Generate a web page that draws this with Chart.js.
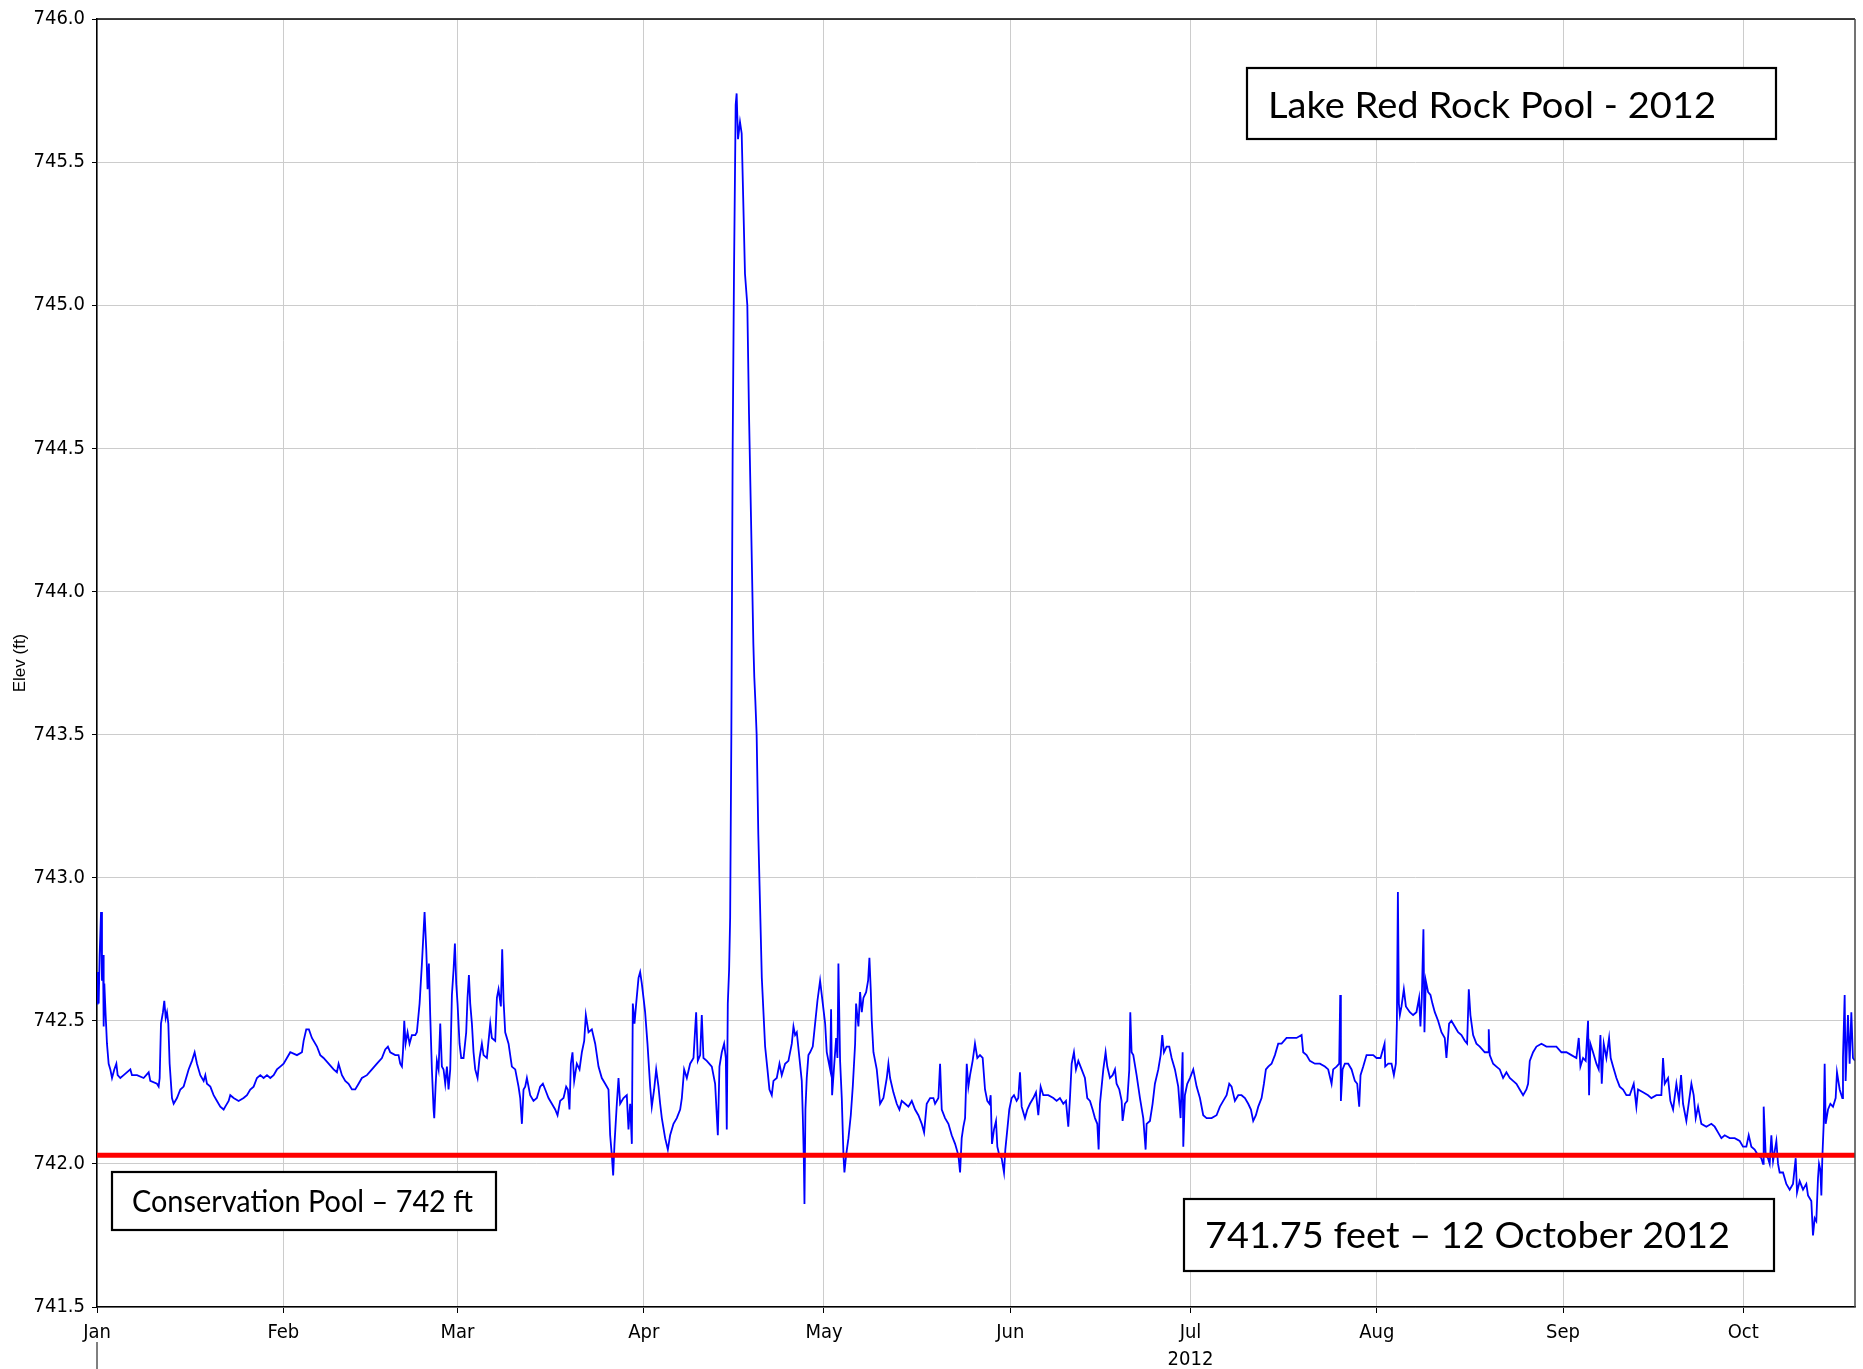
<!DOCTYPE html>
<html>
<head>
<meta charset="utf-8">
<title>Lake Red Rock Pool - 2012</title>
<script src="https://cdn.jsdelivr.net/npm/chart.js@4.4.1/dist/chart.umd.min.js"></script>
<style>
    html, body { margin: 0; padding: 0; background: #fff; }
</style>
</head>
<body>
<canvas id="lineCota" width="1863" height="1369"></canvas>
<script>
// eixo x em dias desde 1 de janeiro de 2012 (ano bissexto)
const inicioMes = [0, 31, 60, 91, 121, 152, 182, 213, 244, 274];
const nomesMes = ['Jan', 'Feb', 'Mar', 'Apr', 'May', 'Jun', 'Jul', 'Aug', 'Sep', 'Oct'];
const fimSerie = 292.6;
const ticksCota = [741.5, 742.0, 742.5, 743.0, 743.5, 744.0, 744.5, 745.0, 745.5, 746.0];
const nivelConservacao = 742.03;

// cota do lago (ft) - janeiro a março
const diasJanMar = [0, 0.11, 0.28, 0.44, 0.67, 0.83, 1.0, 1.11, 1.22, 1.44, 1.66, 1.94, 2.22, 2.5, 2.88, 3.22, 3.44, 3.88, 4.44, 5.55,
    5.82, 6.66, 7.76, 8.6, 8.87, 9.98, 10.26, 10.43, 10.65, 10.98, 11.2, 11.43, 11.65, 11.87, 12.09, 12.48, 12.76, 13.31, 13.87, 14.42,
    15.25, 15.81, 16.25, 16.64, 17.19, 17.75, 18.03, 18.3, 18.86, 19.41, 19.97, 20.52, 21.08, 21.35, 21.91, 22.18, 22.74, 23.57, 24.4, 24.96,
    25.51, 26.07, 26.62, 27.18, 27.73, 28.29, 28.84, 29.4, 29.95, 30.5, 31.06, 31.61, 32.17, 33.28, 34.11, 34.39, 34.83, 35.27, 35.77, 36.61,
    37.16, 37.71, 38.55, 39.38, 39.93, 40.21, 40.77, 41.32, 41.87, 42.43, 42.98, 43.54, 44.09, 44.93, 45.76, 46.59, 47.42, 47.98, 48.42, 48.81,
    49.64, 50.19, 50.47, 50.75, 50.92, 51.14, 51.36, 51.69, 52.02, 52.41, 52.97, 53.24, 53.69, 54.08, 54.35, 54.52, 54.8, 55.02, 55.24, 55.46,
    55.74, 56.02, 56.13, 56.35, 56.57, 56.85, 57.13, 57.4, 57.68, 57.96, 58.24, 58.51, 58.79, 59.07, 59.35, 59.57, 59.79, 60.01, 60.34, 60.62,
    61.01, 61.45, 61.67, 61.9, 62.12, 62.4, 62.67, 62.95, 63.34, 63.67, 64.06, 64.34, 64.89, 65.45, 65.72, 66.28, 66.56, 66.83, 67.22, 67.44,
    67.67, 67.94, 68.5, 69.05, 69.61, 70.16, 70.44, 70.72, 70.99, 71.27, 71.55, 72.1];
const cotaJanMar = [742.56, 742.67, 742.56, 742.73, 742.88, 742.64, 742.73, 742.48, 742.63, 742.52, 742.42, 742.35, 742.33, 742.30, 742.33, 742.35, 742.31, 742.30, 742.31, 742.33,
    742.31, 742.31, 742.30, 742.32, 742.29, 742.28, 742.27, 742.30, 742.49, 742.53, 742.57, 742.51, 742.53, 742.49, 742.35, 742.23, 742.21, 742.23, 742.26, 742.27,
    742.33, 742.36, 742.39, 742.35, 742.31, 742.29, 742.31, 742.28, 742.27, 742.24, 742.22, 742.20, 742.19, 742.20, 742.22, 742.24, 742.23, 742.22, 742.23, 742.24,
    742.26, 742.27, 742.30, 742.31, 742.30, 742.31, 742.30, 742.31, 742.33, 742.34, 742.35, 742.37, 742.39, 742.38, 742.39, 742.43, 742.47, 742.47, 742.44, 742.41,
    742.38, 742.37, 742.35, 742.33, 742.32, 742.35, 742.31, 742.29, 742.28, 742.26, 742.26, 742.28, 742.30, 742.31, 742.33, 742.35, 742.37, 742.40, 742.41, 742.39,
    742.38, 742.38, 742.35, 742.34, 742.39, 742.50, 742.42, 742.46, 742.42, 742.45, 742.45, 742.46, 742.56, 742.70, 742.81, 742.88, 742.75, 742.61, 742.70, 742.52,
    742.33, 742.19, 742.16, 742.27, 742.36, 742.33, 742.49, 742.34, 742.33, 742.28, 742.34, 742.26, 742.33, 742.59, 742.68, 742.77, 742.63, 742.56, 742.42, 742.37,
    742.37, 742.46, 742.58, 742.66, 742.56, 742.49, 742.39, 742.33, 742.30, 742.37, 742.42, 742.38, 742.37, 742.49, 742.44, 742.43, 742.58, 742.61, 742.55, 742.75,
    742.57, 742.46, 742.42, 742.34, 742.33, 742.27, 742.23, 742.14, 742.26, 742.27, 742.30, 742.24];

// março a maio (inclui a cheia de abril)
const diasMarMai = [72.65, 73.21, 73.76, 74.21, 74.6, 75.15, 75.71, 76.26, 76.65, 77.09, 77.65, 78.09, 78.37, 78.64, 78.87, 79.14, 79.42, 79.86, 80.31, 80.7,
    81.09, 81.36, 81.81, 82.36, 82.92, 83.47, 84.02, 84.58, 85.13, 85.41, 85.69, 85.91, 86.13, 86.52, 86.8, 87.07, 87.63, 88.18, 88.46, 88.74,
    89.02, 89.18, 89.46, 89.74, 90.13, 90.4, 90.68, 90.96, 91.23, 91.62, 92.07, 92.34, 92.73, 93.07, 93.45, 93.73, 94.01, 94.56, 95.01, 95.39,
    95.95, 96.5, 97.06, 97.34, 97.72, 98.17, 98.72, 99.28, 99.72, 100.0, 100.39, 100.66, 100.94, 101.5, 102.33, 102.88, 103.33, 103.6, 103.99, 104.38,
    104.66, 104.82, 104.99, 105.21, 105.38, 105.58, 105.8, 106.02, 106.3, 106.46, 106.69, 107.02, 107.3, 107.85, 108.24, 108.52, 108.85, 109.24, 109.4, 109.57,
    109.79, 110.07, 110.35, 110.65, 111.2, 111.59, 111.92, 112.31, 112.59, 113.14, 113.59, 113.97, 114.53, 115.08, 115.64, 115.92, 116.19, 116.47, 116.91, 117.3,
    117.47, 117.64, 117.75, 117.91, 118.13, 118.41, 118.69, 119.13, 119.52, 119.91, 120.35, 120.8, 121.19, 121.46, 121.74, 122.02, 122.18, 122.35, 122.68, 123.02,
    123.24, 123.4, 123.68, 123.96, 124.24, 124.4, 124.68, 125.07, 125.46, 125.79, 126.18, 126.34, 126.73, 127.01, 127.29, 127.56, 128.01, 128.34, 128.56, 128.78,
    128.95, 129.23, 129.78, 130.34, 130.89, 131.45, 131.72, 132.0, 132.55, 133.11, 133.55, 133.94, 134.5, 135.05, 135.61, 136.16, 136.71, 137.27, 137.66, 138.1,
    138.66, 139.21, 139.49, 140.04, 140.32, 140.6, 141.15, 141.71, 142.26, 142.82, 143.37, 143.65, 143.92, 144.2, 144.48, 144.76, 145.03, 145.31];
const cotaMarMai = [742.22, 742.23, 742.27, 742.28, 742.26, 742.23, 742.21, 742.19, 742.17, 742.22, 742.23, 742.27, 742.26, 742.19, 742.35, 742.39, 742.29, 742.35, 742.33, 742.39,
    742.43, 742.52, 742.46, 742.47, 742.42, 742.34, 742.30, 742.28, 742.26, 742.10, 742.03, 741.96, 742.07, 742.21, 742.30, 742.21, 742.23, 742.24, 742.12, 742.21,
    742.07, 742.56, 742.49, 742.56, 742.65, 742.67, 742.63, 742.58, 742.53, 742.42, 742.27, 742.20, 742.26, 742.33, 742.27, 742.21, 742.16, 742.09, 742.05, 742.10,
    742.14, 742.16, 742.19, 742.23, 742.33, 742.30, 742.35, 742.37, 742.53, 742.36, 742.38, 742.52, 742.37, 742.36, 742.34, 742.28, 742.10, 742.34, 742.39, 742.42,
    742.37, 742.12, 742.56, 742.68, 742.86, 743.50, 744.50, 745.11, 745.70, 745.74, 745.58, 745.64, 745.60, 745.11, 745.00, 744.62, 744.26, 743.82, 743.70, 743.62,
    743.50, 743.15, 742.91, 742.65, 742.41, 742.33, 742.26, 742.24, 742.29, 742.30, 742.35, 742.31, 742.35, 742.36, 742.42, 742.48, 742.45, 742.46, 742.37, 742.29,
    742.17, 742.02, 741.86, 742.19, 742.30, 742.38, 742.39, 742.41, 742.49, 742.57, 742.64, 742.56, 742.49, 742.39, 742.36, 742.33, 742.54, 742.24, 742.34, 742.44,
    742.37, 742.70, 742.36, 742.23, 742.03, 741.97, 742.03, 742.09, 742.17, 742.27, 742.42, 742.56, 742.48, 742.60, 742.53, 742.58, 742.60, 742.64, 742.72, 742.61,
    742.50, 742.39, 742.33, 742.21, 742.23, 742.30, 742.35, 742.30, 742.25, 742.21, 742.19, 742.22, 742.21, 742.20, 742.22, 742.19, 742.17, 742.14, 742.11, 742.21,
    742.23, 742.23, 742.21, 742.23, 742.35, 742.19, 742.16, 742.14, 742.10, 742.07, 742.03, 741.97, 742.09, 742.13, 742.16, 742.35, 742.27, 742.31];

// maio a agosto
const diasMaiAgo = [145.74, 146.13, 146.52, 146.96, 147.41, 147.8, 148.18, 148.52, 148.74, 148.96, 149.29, 149.63, 149.85, 150.18, 150.57, 150.96, 151.18, 151.51, 151.84, 152.23,
    152.62, 153.06, 153.34, 153.62, 153.9, 154.45, 154.84, 155.28, 155.84, 156.28, 156.67, 157.06, 157.5, 158.33, 159.17, 159.72, 160.27, 160.83, 161.27, 161.66,
    161.94, 162.22, 162.6, 162.94, 163.33, 163.88, 164.43, 164.82, 165.27, 165.71, 166.1, 166.49, 166.71, 166.93, 167.21, 167.49, 167.87, 168.15, 168.59, 169.04,
    169.43, 169.7, 170.15, 170.54, 170.7, 171.09, 171.48, 171.81, 171.98, 172.2, 172.48, 173.03, 173.59, 174.14, 174.53, 174.7, 175.25, 175.69, 176.08, 176.64,
    177.03, 177.3, 177.58, 178.02, 178.47, 178.86, 179.41, 179.96, 180.35, 180.69, 180.8, 181.07, 181.46, 181.91, 182.46, 183.02, 183.57, 184.12, 184.68, 185.51,
    186.34, 186.9, 187.45, 188.01, 188.45, 188.84, 189.39, 189.95, 190.5, 191.06, 191.61, 192.06, 192.44, 192.89, 193.28, 193.83, 194.22, 194.55, 194.94, 195.49,
    196.05, 196.6, 197.16, 197.99, 198.82, 199.65, 200.49, 200.76, 201.32, 201.87, 202.7, 203.54, 204.37, 204.92, 205.48, 205.75, 206.31, 206.75, 206.92, 207.03,
    207.31, 207.7, 208.25, 208.81, 209.36, 209.75, 210.08, 210.3, 210.75, 211.3, 211.86, 212.41, 212.97, 213.63, 214.3, 214.41, 214.91, 215.46, 215.85, 216.18,
    216.35, 216.52, 216.68, 216.85, 217.12, 217.51, 217.85, 218.51];
const cotaMaiAgo = [742.36, 742.42, 742.37, 742.38, 742.37, 742.26, 742.22, 742.21, 742.24, 742.07, 742.12, 742.15, 742.06, 742.03, 742.02, 741.97, 742.05, 742.12, 742.19, 742.23,
    742.24, 742.22, 742.23, 742.32, 742.20, 742.16, 742.19, 742.21, 742.23, 742.25, 742.17, 742.27, 742.24, 742.24, 742.23, 742.22, 742.23, 742.21, 742.22, 742.13,
    742.23, 742.35, 742.39, 742.33, 742.36, 742.33, 742.30, 742.23, 742.22, 742.19, 742.16, 742.14, 742.05, 742.21, 742.27, 742.33, 742.39, 742.34, 742.30, 742.31,
    742.33, 742.28, 742.26, 742.22, 742.15, 742.21, 742.22, 742.33, 742.53, 742.39, 742.38, 742.31, 742.23, 742.16, 742.05, 742.14, 742.15, 742.21, 742.28, 742.33,
    742.38, 742.45, 742.39, 742.41, 742.41, 742.37, 742.33, 742.27, 742.16, 742.39, 742.06, 742.24, 742.28, 742.30, 742.33, 742.27, 742.23, 742.17, 742.16, 742.16,
    742.17, 742.20, 742.22, 742.24, 742.28, 742.27, 742.22, 742.24, 742.24, 742.23, 742.21, 742.19, 742.15, 742.17, 742.20, 742.23, 742.28, 742.33, 742.34, 742.35,
    742.38, 742.42, 742.42, 742.44, 742.44, 742.44, 742.45, 742.39, 742.38, 742.36, 742.35, 742.35, 742.34, 742.33, 742.28, 742.33, 742.34, 742.35, 742.59, 742.22,
    742.33, 742.35, 742.35, 742.33, 742.29, 742.28, 742.20, 742.31, 742.34, 742.38, 742.38, 742.38, 742.37, 742.37, 742.42, 742.34, 742.35, 742.35, 742.31, 742.35,
    742.49, 742.95, 742.56, 742.52, 742.55, 742.61, 742.55, 742.53];

// agosto a outubro
const diasAgoOut = [219.05, 219.61, 220.05, 220.27, 220.5, 220.77, 220.94, 221.16, 221.55, 221.94, 222.27, 222.66, 223.21, 223.77, 224.32, 224.6, 225.04, 225.43, 225.99, 226.54,
    227.1, 227.65, 228.04, 228.32, 228.59, 229.04, 229.59, 230.15, 230.98, 231.53, 231.64, 231.81, 232.37, 232.92, 233.48, 234.03, 234.58, 235.14, 235.69, 236.25,
    236.8, 237.36, 237.91, 238.19, 238.47, 239.02, 239.58, 240.41, 241.24, 242.07, 242.9, 243.74, 244.57, 245.4, 246.23, 246.62, 246.9, 247.34, 247.78, 248.17,
    248.34, 248.56, 249.0, 249.56, 249.95, 250.23, 250.45, 250.78, 251.22, 251.67, 251.94, 252.33, 252.89, 253.44, 254.0, 254.55, 255.11, 255.77, 256.21, 256.49,
    257.32, 258.16, 258.71, 259.54, 260.37, 260.65, 260.93, 261.48, 261.87, 262.32, 262.87, 263.31, 263.65, 263.98, 264.53, 264.98, 265.37, 265.75, 266.09, 266.48,
    267.03, 267.86, 268.69, 269.25, 269.8, 270.36, 270.91, 271.74, 272.58, 273.41, 273.96, 274.52, 274.91, 275.35, 275.9, 276.46, 277.01, 277.29, 277.4, 277.74,
    278.12, 278.4, 278.68, 278.96, 279.51, 279.79, 280.06, 280.62, 281.17, 281.73, 282.28, 282.73, 282.95, 283.39, 283.95, 284.5, 284.78, 285.06, 285.33, 285.61,
    285.89, 286.16, 286.44, 286.61, 286.83, 287.0, 287.16, 287.39, 287.55, 287.72, 288.11, 288.5, 288.94, 289.38, 289.6, 290.05, 290.49, 290.6, 290.88, 291.04,
    291.43, 291.71, 291.99, 292.26, 292.6];
const cotaAgoOut = [742.52, 742.53, 742.58, 742.48, 742.58, 742.82, 742.46, 742.64, 742.60, 742.59, 742.56, 742.53, 742.50, 742.46, 742.44, 742.37, 742.49, 742.50, 742.48, 742.46,
    742.45, 742.43, 742.42, 742.61, 742.52, 742.45, 742.42, 742.41, 742.39, 742.39, 742.47, 742.38, 742.35, 742.34, 742.33, 742.30, 742.32, 742.30, 742.29, 742.28,
    742.26, 742.24, 742.26, 742.28, 742.36, 742.39, 742.41, 742.42, 742.41, 742.41, 742.41, 742.39, 742.39, 742.38, 742.37, 742.44, 742.34, 742.37, 742.36, 742.50,
    742.24, 742.42, 742.39, 742.35, 742.33, 742.45, 742.28, 742.42, 742.37, 742.44, 742.37, 742.34, 742.30, 742.27, 742.26, 742.24, 742.24, 742.28, 742.20, 742.26,
    742.25, 742.24, 742.23, 742.24, 742.24, 742.37, 742.28, 742.30, 742.22, 742.19, 742.28, 742.22, 742.31, 742.21, 742.15, 742.22, 742.28, 742.24, 742.16, 742.20,
    742.14, 742.13, 742.14, 742.13, 742.11, 742.09, 742.10, 742.09, 742.09, 742.08, 742.06, 742.06, 742.10, 742.06, 742.05, 742.03, 742.02, 742.00, 742.20, 742.03,
    742.02, 742.00, 742.10, 742.01, 742.08, 742.00, 741.97, 741.97, 741.93, 741.91, 741.93, 742.02, 741.90, 741.94, 741.91, 741.93, 741.89, 741.88, 741.87, 741.75,
    741.81, 741.80, 741.95, 742.00, 741.98, 741.89, 742.02, 742.14, 742.35, 742.14, 742.19, 742.21, 742.20, 742.23, 742.32, 742.26, 742.23, 742.37, 742.59, 742.29,
    742.52, 742.35, 742.53, 742.37, 742.36];

const diasTodos = diasJanMar.concat(diasMarMai, diasMaiAgo, diasAgoOut);
const cotaTodas = cotaJanMar.concat(cotaMarMai, cotaMaiAgo, cotaAgoOut);
const pontosCota = diasTodos.map((d, i) => ({ x: d, y: cotaTodas[i] }));

const fonteEixo = "'Liberation Sans Narrow', 'DejaVu Sans Condensed', 'Liberation Sans', sans-serif";
const fonteCaixa = "Lato, 'Open Sans', sans-serif";

// caixa com texto ajustado a largura (estilo das anotações do original)
function caixaTexto(ctx, txt, box, tx, base, larg, cap) {
    ctx.save();
    ctx.fillStyle = '#fff';
    ctx.fillRect(box[0], box[1], box[2], box[3]);
    ctx.strokeStyle = '#000';
    ctx.lineWidth = 2.2;
    ctx.strokeRect(box[0], box[1], box[2], box[3]);
    ctx.font = (cap / 0.7165).toFixed(1) + 'px ' + fonteCaixa;
    ctx.textAlign = 'left';
    ctx.textBaseline = 'alphabetic';
    ctx.fillStyle = '#000';
    const w = ctx.measureText(txt).width;
    ctx.translate(tx, base);
    ctx.scale(larg / w, 1);
    ctx.fillText(txt, 0, 0);
    ctx.restore();
}

const anotacoes = {
    id: 'anotacoes',
    afterDraw(chart) {
        const ctx = chart.ctx;
        const area = chart.chartArea;
        const sx = chart.scales.x;

        // moldura de cima e da direita
        ctx.save();
        ctx.strokeStyle = '#000';
        ctx.lineWidth = 1.5;
        ctx.beginPath();
        ctx.moveTo(area.left, area.top);
        ctx.lineTo(area.right, area.top);
        ctx.stroke();
        ctx.strokeStyle = '#444';
        ctx.beginPath();
        ctx.moveTo(area.right, area.top);
        ctx.lineTo(area.right, area.bottom);
        ctx.stroke();

        // separador do ano e rótulo 2012
        const xJan = sx.getPixelForValue(inicioMes[0]);
        ctx.strokeStyle = '#000';
        ctx.lineWidth = 1;
        ctx.beginPath();
        ctx.moveTo(xJan, 1342);
        ctx.lineTo(xJan, 1369);
        ctx.stroke();
        ctx.fillStyle = '#000';
        ctx.font = '20px ' + fonteEixo;
        ctx.textAlign = 'center';
        ctx.textBaseline = 'middle';
        ctx.fillText('2012', sx.getPixelForValue(inicioMes[6]), 1360);
        ctx.restore();

        caixaTexto(ctx, 'Lake Red Rock Pool - 2012', [1247, 68, 529, 71], 1268, 118, 448, 26.5);
        caixaTexto(ctx, 'Conservation Pool \u2013 742 ft', [112, 1172, 384, 58], 132, 1211.5, 341, 21.5);
        caixaTexto(ctx, '741.75 feet \u2013 12 October 2012', [1184, 1199, 590, 72], 1205, 1248, 525, 26.5);
    }
};

const configCota = {
    type: 'line',
    data: {
        datasets: [{
            label: 'Conservation Pool',
            data: [{ x: 0, y: nivelConservacao }, { x: fimSerie, y: nivelConservacao }],
            borderColor: '#ff0000',
            borderWidth: 5,
            pointRadius: 0,
            tension: 0
        }, {
            label: 'Elev',
            data: pontosCota,
            borderColor: '#0000ff',
            borderWidth: 1.8,
            pointRadius: 0,
            tension: 0
        }]
    },
    options: {
        responsive: false,
        animation: false,
        layout: {
            padding: { top: 15, right: 8, left: 0, bottom: 0 }
        },
        plugins: {
            legend: { display: false },
            tooltip: { enabled: false }
        },
        scales: {
            x: {
                type: 'linear',
                min: 0,
                max: fimSerie,
                afterBuildTicks: (s) => { s.ticks = inicioMes.map(v => ({ value: v })); },
                afterFit: (s) => { s.height = 62; },
                ticks: {
                    autoSkip: false,
                    maxRotation: 0,
                    padding: 8,
                    color: '#000',
                    font: { size: 20, family: fonteEixo },
                    callback: (v) => nomesMes[inicioMes.indexOf(v)]
                },
                grid: { color: '#cccccc', tickColor: '#000', tickLength: 6 },
                border: { color: '#000', width: 1.5 }
            },
            y: {
                min: ticksCota[0],
                max: ticksCota[ticksCota.length - 1],
                afterBuildTicks: (s) => { s.ticks = ticksCota.map(v => ({ value: v })); },
                afterFit: (s) => { s.width = 97; },
                ticks: {
                    padding: 7,
                    color: '#000',
                    font: { size: 20, family: fonteEixo },
                    callback: (v) => v.toFixed(1)
                },
                grid: { color: '#cccccc', tickColor: '#000', tickLength: 5 },
                border: { color: '#000', width: 1.5 },
                title: {
                    display: true,
                    text: 'Elev (ft)',
                    color: '#000',
                    padding: { top: 10, bottom: 0 },
                    font: { size: 17, family: "'Liberation Sans', Arial, sans-serif" }
                }
            }
        }
    },
    plugins: [anotacoes]
};

new Chart(document.getElementById('lineCota').getContext('2d'), configCota);
</script>
</body>
</html>
